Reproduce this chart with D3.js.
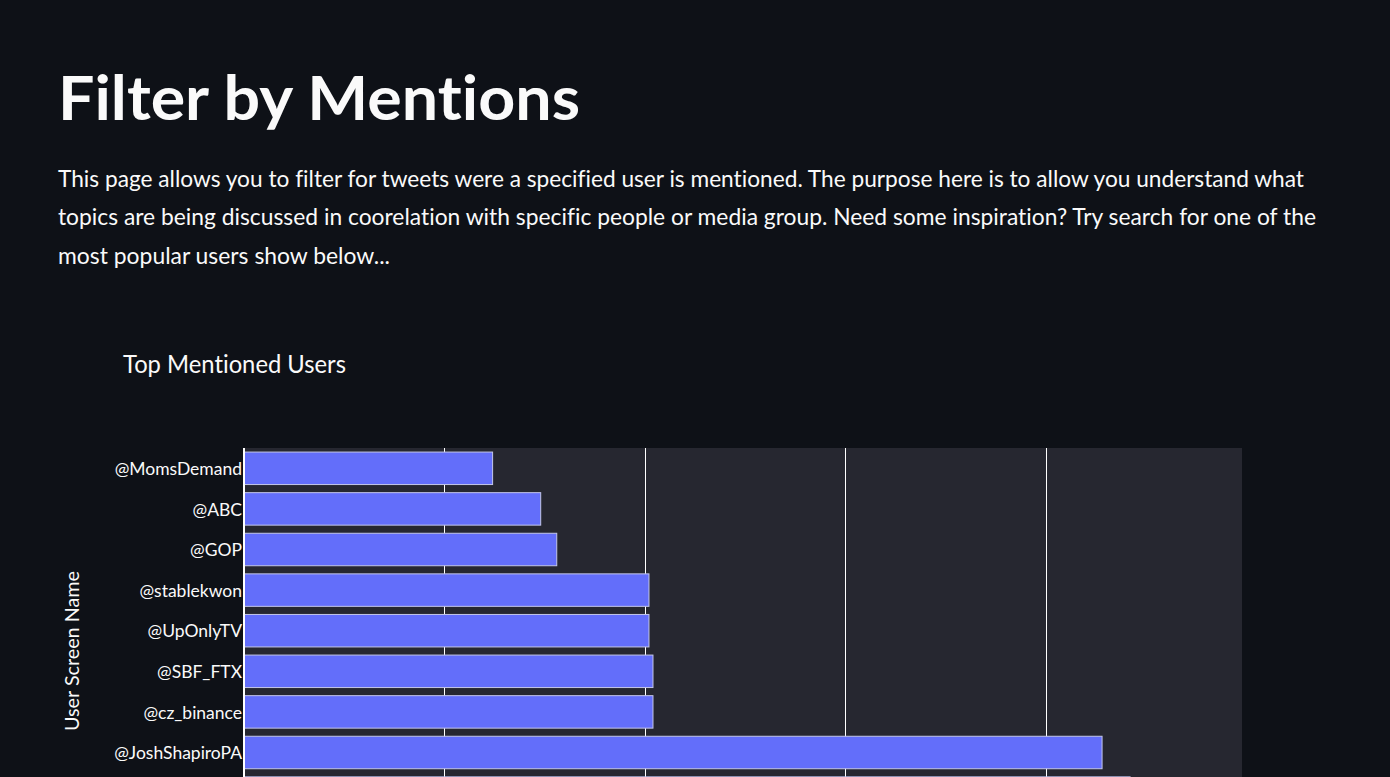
<!DOCTYPE html>
<html>
<head>
<meta charset="utf-8">
<script src="https://cdn.jsdelivr.net/npm/d3@7"></script>
<style>
  html, body { margin: 0; padding: 0; background: #0e1117; overflow: hidden; }
  svg text { font-variant-ligatures: none; font-feature-settings: "liga" 0; }
</style>
</head>
<body>
<div id="page"></div>
<script>
// Data for the chart (top -> bottom order as drawn)
const users = ["@MomsDemand", "@ABC", "@GOP", "@stablekwon", "@UpOnlyTV",
               "@SBF_FTX", "@cz_binance", "@JoshShapiroPA", "@elonmusk", "@POTUS"];
const mentions = [62, 74, 78, 101, 101, 102, 102, 214, 221, 237];
const xTicks = [0, 50, 100, 150, 200];

const heading = "Filter by Mentions";
const paragraph = [
    "This page allows you to filter for tweets were a specified user is mentioned. The purpose here is to allow you understand what",
    "topics are being discussed in coorelation with specific people or media group. Need some inspiration? Try search for one of the",
    "most popular users show below..."
];
const chartTitle = "Top Mentioned Users";
const yTitle = "User Screen Name";

const data = users.map((u, i) => ({ user: u, count: mentions[i] }));

const font = "Lato, 'Source Sans Pro', sans-serif";
const textColor = "#fafafa";

// Set dimensions
const W = 1390, H = 900;
const plot = { left: 244, right: 1242, top: 448, bottom: 854 };

const svg = d3.select("#page")
    .append("svg")
    .attr("width", W)
    .attr("height", H)
    .style("display", "block");

// Page heading + intro text
svg.append("text")
    .attr("x", 58).attr("y", 119.5)
    .attr("fill", textColor)
    .attr("font-family", font)
    .attr("font-weight", 700)
    .attr("font-size", 61)
    .attr("textLength", 522)
    .attr("lengthAdjust", "spacingAndGlyphs")
    .text(heading);

const paraWidths = [1246, 1258, 332];
svg.selectAll(".para")
    .data(paragraph)
    .enter()
    .append("text")
    .attr("class", "para")
    .attr("x", 58)
    .attr("y", (d, i) => 186.5 + i * 38.5)
    .attr("fill", textColor)
    .attr("font-family", font)
    .attr("font-size", 24)
    .attr("textLength", (d, i) => paraWidths[i])
    .attr("lengthAdjust", "spacingAndGlyphs")
    .text(d => d);

// Chart title
svg.append("text")
    .attr("x", 123).attr("y", 373)
    .attr("fill", textColor)
    .attr("font-family", font)
    .attr("font-size", 25)
    .attr("textLength", 223)
    .attr("lengthAdjust", "spacingAndGlyphs")
    .text(chartTitle);

// Scales
const xScale = d3.scaleLinear()
    .domain([0, 248.9])
    .range([plot.left, plot.right]);

const yScale = d3.scaleBand()
    .domain(users)
    .range([plot.top, plot.bottom])
    .paddingInner(0.2)
    .paddingOuter(0.1);

// Plot background
svg.append("rect")
    .attr("x", plot.left).attr("y", plot.top)
    .attr("width", plot.right - plot.left)
    .attr("height", plot.bottom - plot.top)
    .attr("fill", "#262730");

// Gridlines
svg.append("g")
    .selectAll("line")
    .data(xTicks.filter(t => t > 0))
    .enter()
    .append("line")
    .attr("x1", d => Math.round(xScale(d)) + 0.5)
    .attr("x2", d => Math.round(xScale(d)) + 0.5)
    .attr("y1", plot.top)
    .attr("y2", plot.bottom)
    .attr("stroke", "#ffffff")
    .attr("stroke-width", 1);

// Bars
svg.selectAll(".bar")
    .data(data)
    .enter()
    .append("rect")
    .attr("class", "bar")
    .attr("x", xScale(0))
    .attr("y", d => yScale(d.user))
    .attr("width", d => xScale(d.count) - xScale(0))
    .attr("height", yScale.bandwidth())
    .attr("fill", "#636efa")
    .attr("stroke", "#c3c6ea")
    .attr("stroke-width", 1);

// Zero line
svg.append("line")
    .attr("x1", xScale(0)).attr("x2", xScale(0))
    .attr("y1", plot.top).attr("y2", plot.bottom)
    .attr("stroke", "#ffffff")
    .attr("stroke-width", 2);

// Y axis labels
const yAxis = svg.append("g")
    .attr("transform", `translate(${plot.left - 2},0)`)
    .call(d3.axisLeft(yScale).tickSize(0).tickPadding(0));
yAxis.select(".domain").remove();
yAxis.selectAll("text")
    .attr("fill", textColor)
    .attr("font-family", font)
    .attr("font-size", 17.5)
    .attr("dy", "0.38em");

// X axis (below the visible window)
const xAxis = svg.append("g")
    .attr("transform", `translate(0,${plot.bottom})`)
    .call(d3.axisBottom(xScale).tickValues(xTicks).tickSize(0).tickPadding(8));
xAxis.select(".domain").remove();
xAxis.selectAll("text")
    .attr("fill", textColor)
    .attr("font-family", font)
    .attr("font-size", 17.5);

// Y axis title
svg.append("text")
    .attr("transform", `translate(79,${(plot.top + plot.bottom) / 2}) rotate(-90)`)
    .attr("text-anchor", "middle")
    .attr("fill", textColor)
    .attr("font-family", font)
    .attr("font-size", 20)
    .attr("textLength", 160)
    .attr("lengthAdjust", "spacingAndGlyphs")
    .text(yTitle);
</script>
</body>
</html>
